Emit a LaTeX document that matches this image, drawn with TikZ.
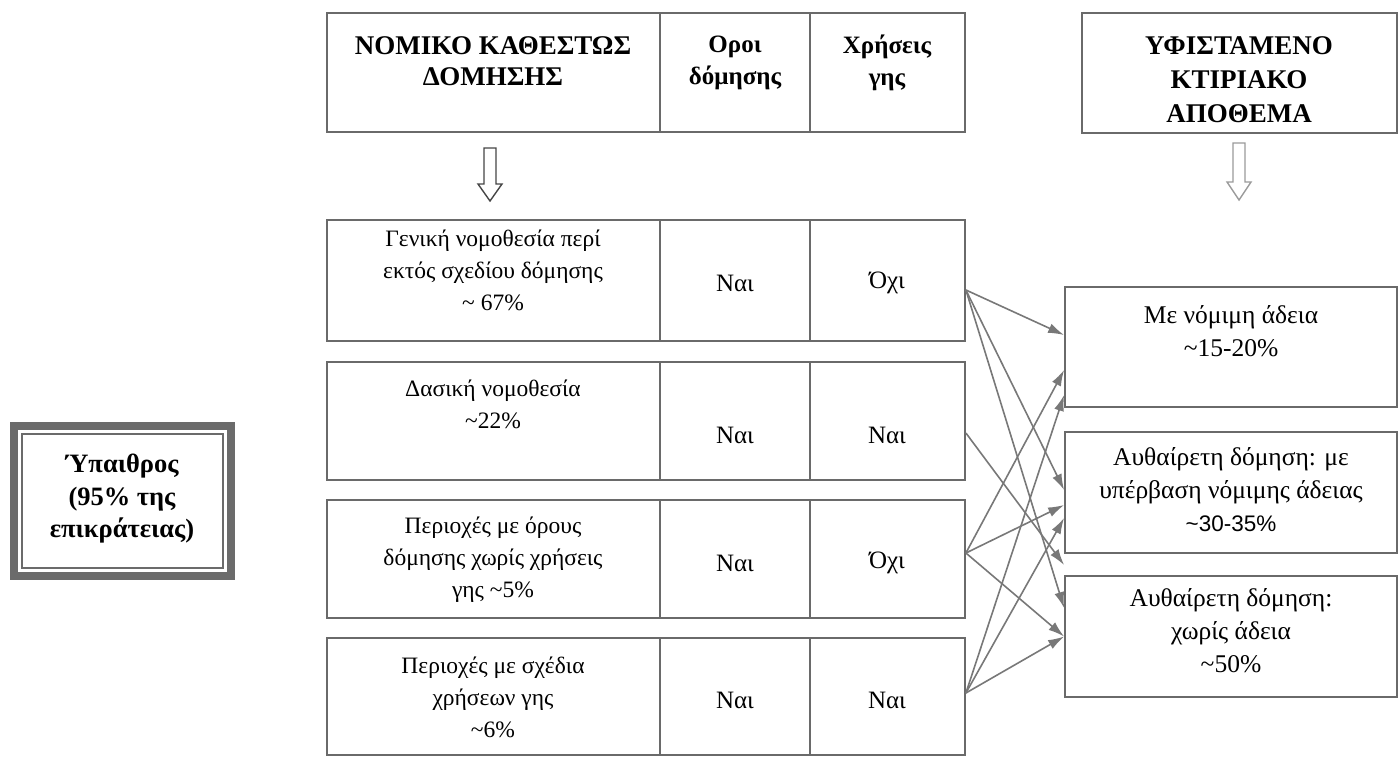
\documentclass[tikz,border=0pt]{standalone}
\usepackage{fontspec}
\setmainfont{Liberation Serif}
\newfontfamily\altsans{Liberation Sans}
\usetikzlibrary{arrows.meta,calc}
\definecolor{boxgrey}{HTML}{6A6A6A}
\definecolor{linkgrey}{HTML}{787878}
\definecolor{framegrey}{HTML}{6B6B6B}
\definecolor{arrowdark}{HTML}{454545}
\definecolor{arrowlight}{HTML}{9A9A9A}
\begin{document}
\begin{tikzpicture}[x=1pt,y=-1pt,
  cell/.style={draw=boxgrey, line width=1.8pt, inner sep=0pt},
  txt/.style={align=center, inner sep=0pt, text=black, font=\fontsize{23.5}{32}\selectfont},
  yesno/.style={align=center, inner sep=0pt, text=black, font=\fontsize{25}{32}\selectfont},
  rtxt/.style={align=center, inner sep=0pt, text=black, font=\fontsize{25.5}{33}\selectfont},
  head/.style={align=center, inner sep=0pt, text=black, font=\fontsize{27}{31}\selectfont\bfseries},
  link/.style={draw=linkgrey, line width=1.6pt, -{Latex[length=16pt,width=10pt]}},
  blockarrow/.style={line width=1.4pt, fill=white},
]
\useasboundingbox (0,0) rectangle (1400,760);

% ---- left: the countryside box with its heavy double frame
\node[draw=framegrey, line width=8pt, outer sep=0pt, inner sep=0pt,
      minimum width=217pt, minimum height=150pt] (lb) at (122.5,501) {};
\draw[draw=framegrey, line width=1.8pt]
  ([shift={(8pt,-8pt)}]lb.north west) rectangle ([shift={(-8pt,8pt)}]lb.south east);
\node[align=center, inner sep=0pt, font=\fontsize{26.5}{32.5}\selectfont\bfseries] (lbt) at (122,499)
  {Ύπαιθρος\\(95\% της\\επικράτειας)};

% ---- header row of the legal-status table
\node[cell, minimum width=333pt, minimum height=119pt] (h1) at (493.5,72.5) {};
\node[cell, minimum width=150pt, minimum height=119pt] (h2) at (735,72.5) {};
\node[cell, minimum width=155pt, minimum height=119pt] (h3) at (887.5,72.5) {};
\node[head] (h1t) at (493,61) {ΝΟΜΙΚΟ ΚΑΘΕΣΤΩΣ\\ΔΟΜΗΣΗΣ};
\node[head, font=\fontsize{25}{32}\selectfont\bfseries] (h2t) at (735,63) {Οροι\\δόμησης};
\node[head, font=\fontsize{25}{32}\selectfont\bfseries] (h3t) at (887,63) {Χρήσεις\\γης};

% ---- header of the building stock column
\node[cell, minimum width=315pt, minimum height=120pt] (hr) at (1239.5,73) {};
\node[head, font=\fontsize{27}{34}\selectfont\bfseries] (hrt) at (1239,80)
  {ΥΦΙΣΤΑΜΕΝΟ\\ΚΤΙΡΙΑΚΟ\\ΑΠΟΘΕΜΑ};

% ---- hollow down arrows under the headers
\draw[blockarrow, draw=arrowdark] (484,148) -- (496,148) -- (496,184) -- (502,184)
  -- (490,201) -- (478,184) -- (484,184) -- cycle;
\draw[blockarrow, draw=arrowlight] (1233,143) -- (1245,143) -- (1245,182) -- (1251,182)
  -- (1239,200) -- (1227,182) -- (1233,182) -- cycle;

% ---- table rows
\node[cell, minimum width=333pt, minimum height=121pt] (r1a) at (493.5,280.5) {};
\node[cell, minimum width=150pt, minimum height=121pt] (r1b) at (735,280.5) {};
\node[cell, minimum width=155pt, minimum height=121pt] (r1c) at (887.5,280.5) {};
\node[txt] (r1t) at (493,270) {Γενική νομοθεσία περί\\εκτός σχεδίου δόμησης\\\textasciitilde{} 67\%};
\node[yesno] (r1y) at (735,283) {Ναι};
\node[yesno] (r1n) at (887,283) {Όχι};

\node[cell, minimum width=333pt, minimum height=118pt] (r2a) at (493.5,421) {};
\node[cell, minimum width=150pt, minimum height=118pt] (r2b) at (735,421) {};
\node[cell, minimum width=155pt, minimum height=118pt] (r2c) at (887.5,421) {};
\node[txt] (r2t) at (493,404) {Δασική νομοθεσία\\\textasciitilde22\%};
\node[yesno] (r2y) at (735,435) {Ναι};
\node[yesno] (r2n) at (887,435) {Ναι};

\node[cell, minimum width=333pt, minimum height=118pt] (r3a) at (493.5,559) {};
\node[cell, minimum width=150pt, minimum height=118pt] (r3b) at (735,559) {};
\node[cell, minimum width=155pt, minimum height=118pt] (r3c) at (887.5,559) {};
\node[txt] (r3t) at (493,560) {Περιοχές με όρους\\δόμησης χωρίς χρήσεις\\γης \textasciitilde5\%};
\node[yesno] (r3y) at (735,563) {Ναι};
\node[yesno] (r3n) at (887,563) {Όχι};

\node[cell, minimum width=333pt, minimum height=117pt] (r4a) at (493.5,696.5) {};
\node[cell, minimum width=150pt, minimum height=117pt] (r4b) at (735,696.5) {};
\node[cell, minimum width=155pt, minimum height=117pt] (r4c) at (887.5,696.5) {};
\node[txt] (r4t) at (493,697) {Περιοχές με σχέδια\\χρήσεων γης\\\textasciitilde6\%};
\node[yesno] (r4y) at (735,700) {Ναι};
\node[yesno] (r4n) at (887,700) {Ναι};

% ---- building stock categories
\node[cell, minimum width=332pt, minimum height=120pt] (b1) at (1231,347) {};
\node[rtxt] (b1t) at (1231,331) {Με νόμιμη άδεια\\\textasciitilde15-20\%};
\node[cell, minimum width=332pt, minimum height=121pt] (b2) at (1231,492.5) {};
\node[rtxt] (b2t) at (1231,490) {Αυθαίρετη δόμηση: με\\υπέρβαση νόμιμης άδειας\\{\altsans\fontsize{22.5}{33}\selectfont\textasciitilde30-35\%}};
\node[cell, minimum width=332pt, minimum height=121pt] (b3) at (1231,636.5) {};
\node[rtxt] (b3t) at (1231,631) {Αυθαίρετη δόμηση:\\χωρίς άδεια\\\textasciitilde50\%};

% ---- links from legal status to building stock
\draw[link] ([yshift=-9.5pt]r1c.east) -- ([yshift=12pt]b1.west);
\draw[link] ([yshift=-9.5pt]r1c.east) -- ([yshift=2.5pt]b2.west);
\draw[link] ([yshift=-9.5pt]r1c.east) -- ([yshift=28.5pt]b3.west);
\draw[link] ([yshift=-12pt]r2c.east) -- ([yshift=71.5pt]b3.west);
\draw[link] ([yshift=6pt]r3c.east) -- ([yshift=-23pt]b1.west);
\draw[link] ([yshift=6pt]r3c.east) -- ([yshift=-12.5pt]b2.west);
\draw[link] ([yshift=6pt]r3c.east) -- (b3.west);
\draw[link] ([yshift=3.5pt]r4c.east) -- ([yshift=-48pt]b1.west);
\draw[link] ([yshift=3.5pt]r4c.east) -- ([yshift=-25.5pt]b2.west);
\draw[link] ([yshift=3.5pt]r4c.east) -- (b3.west);
\end{tikzpicture}
\end{document}
